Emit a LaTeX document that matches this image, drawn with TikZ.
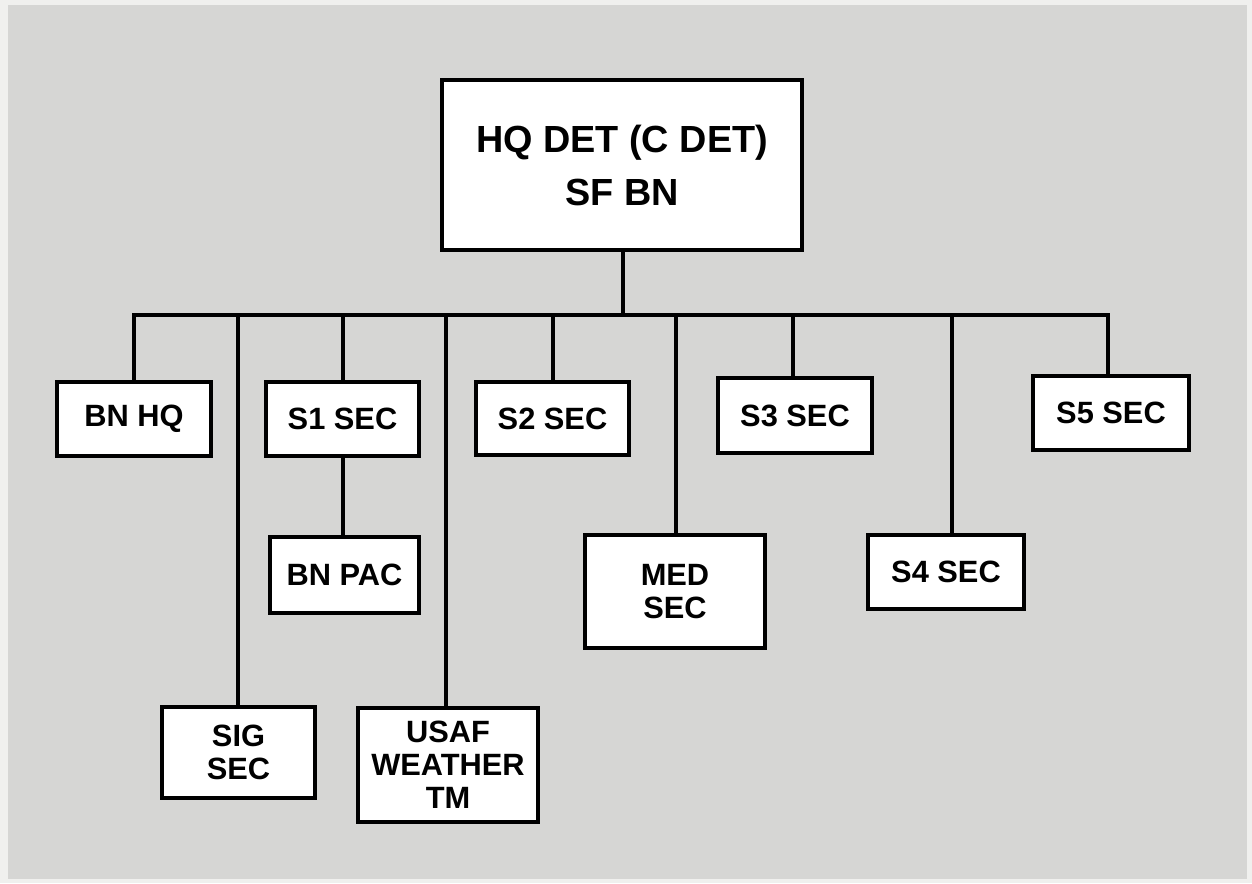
\documentclass[tikz,border=0pt]{standalone}
\usepackage{fontspec}
\setmainfont{Liberation Sans}
\begin{document}
\begin{tikzpicture}[x=0.5pt,y=-0.5pt,
  box/.style={draw=black,fill=white,line width=1.6pt,rectangle,inner sep=0pt,align=center,
    font=\fontsize{15.4}{16.5}\selectfont\bfseries},
  topbox/.style={box,line width=2.1pt,font=\fontsize{18.9}{26.5}\selectfont\bfseries},
  link/.style={draw=black,line width=1.6pt,line cap=rect}]
% background
\fill[fill={rgb,255:red,240;green,240;blue,238}] (0,0) rectangle (1252,883);
\fill[fill={rgb,255:red,214;green,214;blue,212}] (8,5) rectangle (1247,879);
\useasboundingbox (0,0) rectangle (1252,883);
% bus and connectors (behind boxes)
\coordinate (busL) at (134,315);
\coordinate (busR) at (1108,315);
\path[link] (busL) -- (busR);
% nodes
\node[topbox,minimum width=180pt,minimum height=85pt] (top) at (622,165) {HQ DET (C DET)\\SF BN};
\node[box,minimum width=77pt,minimum height=37pt] (bnhq) at (134,419) {BN HQ};
\node[box,minimum width=76.5pt,minimum height=37pt] (s1) at (342.5,419) {S1 SEC};
\node[box,minimum width=76.5pt,minimum height=36.5pt] (s2) at (552.5,418.5) {S2 SEC};
\node[box,minimum width=77pt,minimum height=37.5pt] (s3) at (795,415.5) {S3 SEC};
\node[box,minimum width=78pt,minimum height=37pt] (s5) at (1111,413) {S5 SEC};
\node[box,minimum width=74.5pt,minimum height=38pt] (bnpac) at (344.5,575) {BN PAC};
\node[box,minimum width=90pt,minimum height=56.5pt] (med) at (675,591.5) {MED\\SEC};
\node[box,minimum width=78pt,minimum height=37pt] (s4) at (946,572) {S4 SEC};
\node[box,minimum width=76.5pt,minimum height=45.5pt] (sig) at (238.5,752.5) {SIG\\SEC};
\node[box,minimum width=90pt,minimum height=57pt] (usaf) at (448,765) {USAF\\WEATHER\\TM};
% drops
\path[link] (top.south -| 623,0) -- (623,315);
\path[link] (bnhq.north -| busL) -- (busL);
\path[link] (s1.north -| 343,0) -- (343,315);
\path[link] (s1.south -| 343,0) -- (bnpac.north -| 343,0);
\path[link] (s2.north -| 553,0) -- (553,315);
\path[link] (s3.north -| 793,0) -- (793,315);
\path[link] (s5.north -| busR) -- (busR);
\path[link] (sig.north -| 238,0) -- (238,315);
\path[link] (usaf.north -| 446,0) -- (446,315);
\path[link] (med.north -| 676,0) -- (676,315);
\path[link] (s4.north -| 952,0) -- (952,315);
\end{tikzpicture}
\end{document}
